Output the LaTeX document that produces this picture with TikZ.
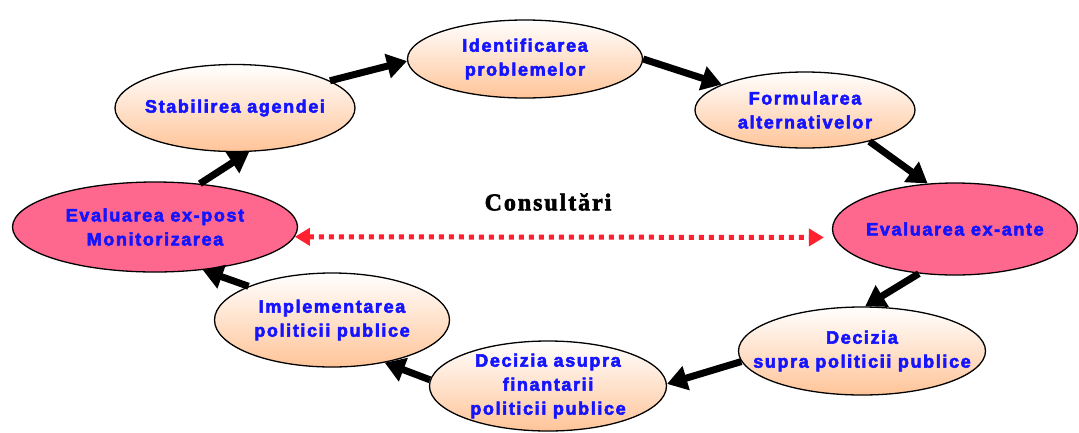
\documentclass[tikz,border=0pt]{standalone}
\usepackage{fontspec}
\setmainfont{Liberation Sans}
\newfontfamily\lblfont[LetterSpace=9,BoldFeatures={FakeBold=3}]{Liberation Sans}
\newfontfamily\serffont[LetterSpace=8,BoldFeatures={FakeBold=2.5}]{Liberation Serif}
\usetikzlibrary{shapes.geometric,arrows.meta}
\definecolor{peach}{RGB}{255,196,152}
\definecolor{pinkf}{RGB}{255,104,142}
\definecolor{txtblue}{RGB}{20,20,255}
\definecolor{dotred}{RGB}{255,32,48}
\tikzset{
  lbl/.style={font=\lblfont\bfseries\fontsize{18}{24}\selectfont, text=txtblue, align=center},
  oval/.style={ellipse, draw=black, line width=1.3pt, inner sep=0pt},
  light/.style={oval, top color=white, bottom color=peach, shading angle=0},
  dark/.style={oval, fill=pinkf},
  flow/.style={line width=7pt, black, -{Triangle[length=20pt,width=24pt]}},
  consult/.style={line width=5pt, dotred, dash pattern=on 5pt off 5pt,
     {Triangle[length=15pt,width=17pt]}-{Triangle[length=15pt,width=17pt]}},
}
\begin{document}
\begin{tikzpicture}[x=1pt,y=-1pt]
\useasboundingbox (0,0) rectangle (1079,432);
\node[light, minimum width=235pt, minimum height=78pt, label={[lbl]center:Identificarea\\problemelor}] (ident) at (525,59) {};
\node[light, minimum width=220pt, minimum height=76pt, label={[lbl]center:Formularea\\alternativelor}] (form) at (805,110) {};
\node[dark, minimum width=245pt, minimum height=92pt, label={[lbl]center:Evaluarea ex-ante}] (exante) at (955,229) {};
\node[light, minimum width=247pt, minimum height=88pt, label={[lbl]center:Decizia\\supra politicii publice}] (supra) at (862,351) {};
\node[light, minimum width=237pt, minimum height=90pt, label={[lbl]center:Decizia asupra\\finantarii\\politicii publice}] (asupra) at (548,386) {};
\node[light, minimum width=235pt, minimum height=94pt, label={[lbl]center:Implementarea\\politicii publice}] (impl) at (332,320) {};
\node[dark, minimum width=285pt, minimum height=90pt, label={[lbl]center:Evaluarea ex-post\\Monitorizarea}] (expost) at (155,227) {};
\node[light, minimum width=240pt, minimum height=87pt, label={[lbl]center:Stabilirea agendei}] (stab) at (235,108) {};
\node[font=\serffont\bfseries\fontsize{24}{28}\selectfont] (cons) at (548,202) {Consultări};

\draw[flow] (stab.16) -- (ident.181);
\draw[flow] (ident.0) -- (form.163);
\draw[flow] (form.-26) -- (exante.121);
\draw[flow] (exante.231) -- (supra.86);
\draw[flow] (supra.185) -- (asupra.1);
\draw[flow] (asupra.177) -- (impl.-39);
\draw[flow] (impl.158) -- (expost.-42);
\draw[flow] (expost.44) -- (stab.-72);
\draw[consult, shorten >=10pt] (expost.-4) -- (exante.184);
\end{tikzpicture}
\end{document}
